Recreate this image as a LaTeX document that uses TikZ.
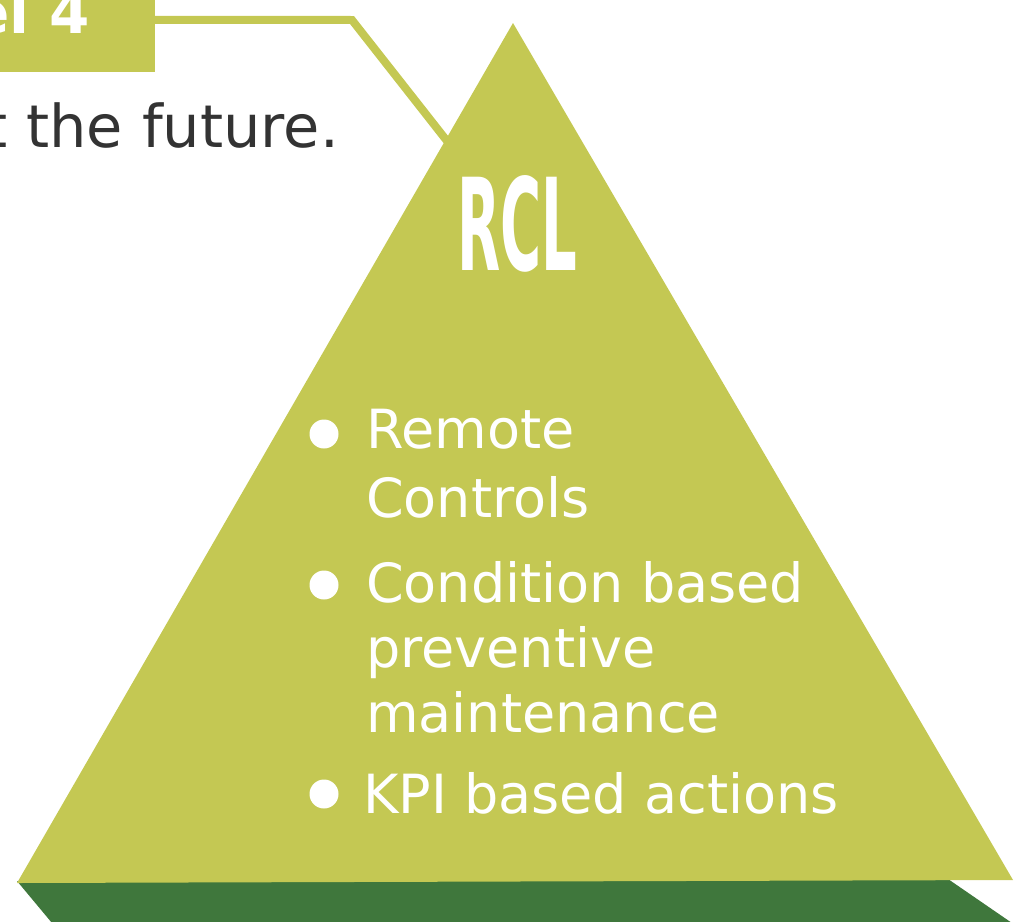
\documentclass[tikz,border=0pt]{standalone}
\usepackage{fontspec}
\setmainfont{DejaVu Sans}
\definecolor{lime}{RGB}{196,200,83}
\definecolor{dgreen}{RGB}{63,119,60}
\definecolor{txtgray}{RGB}{51,51,51}
\begin{document}
\begin{tikzpicture}[x=1pt,y=-1pt,
  bodytext/.style={text=white,font=\fontsize{54}{64}\selectfont,inner sep=0,anchor=base west},
  bulletdot/.style={circle,fill=white,minimum size=29pt,inner sep=0},
  conn/.style={draw=lime,line width=8pt}]
\useasboundingbox (0,0) rectangle (1032,921);
\clip (0,0) rectangle (1032,921);
% base band
\fill[dgreen] (17,881) -- (948,879) -- (1012,923) -- (52,923) -- cycle;
% pyramid
\coordinate (apex) at (513,23);
\coordinate (bl) at (17,883);
\coordinate (br) at (1013,880);
\fill[lime] (apex) -- (br) -- (bl) -- cycle;
% title box
\node[fill=lime,inner sep=0,minimum width=200pt,minimum height=104pt,anchor=south east] (titlebox) at (155,72) {};
\node[text=white,font=\fontsize{58}{70}\selectfont\bfseries,anchor=base east,inner sep=0] (titletext) at (90,33) {el 4};
\coordinate (bend) at (352,20);
\coordinate (tipend) at (447,141);
\draw[conn] (titlebox.east) -- (bend) -- (tipend);
% subtitle text
\node[text=txtgray,font=\fontsize{59}{70}\selectfont,anchor=base east,inner sep=0] (future) at (339,147) {t the future.};
% RCL
\node[text=white,inner sep=0,anchor=north west] (rcl) at (457,175) {\resizebox{120pt}{95pt}{\bfseries RCL}};
% bullets
\node[bulletdot] (b1) at (324,434) {};
\node[bulletdot] (b2) at (324,585) {};
\node[bulletdot] (b3) at (324,794) {};
\node[bodytext] (l1) at (366,448) {Remote};
\node[bodytext] (l2) at (366,517) {Controls};
\node[bodytext] (l3) at (366,602) {Condition based};
\node[bodytext] (l4) at (366,667) {preventive};
\node[bodytext] (l5) at (366,732) {maintenance};
\node[bodytext] (l6) at (363,813) {KPI based actions};
\end{tikzpicture}
\end{document}
